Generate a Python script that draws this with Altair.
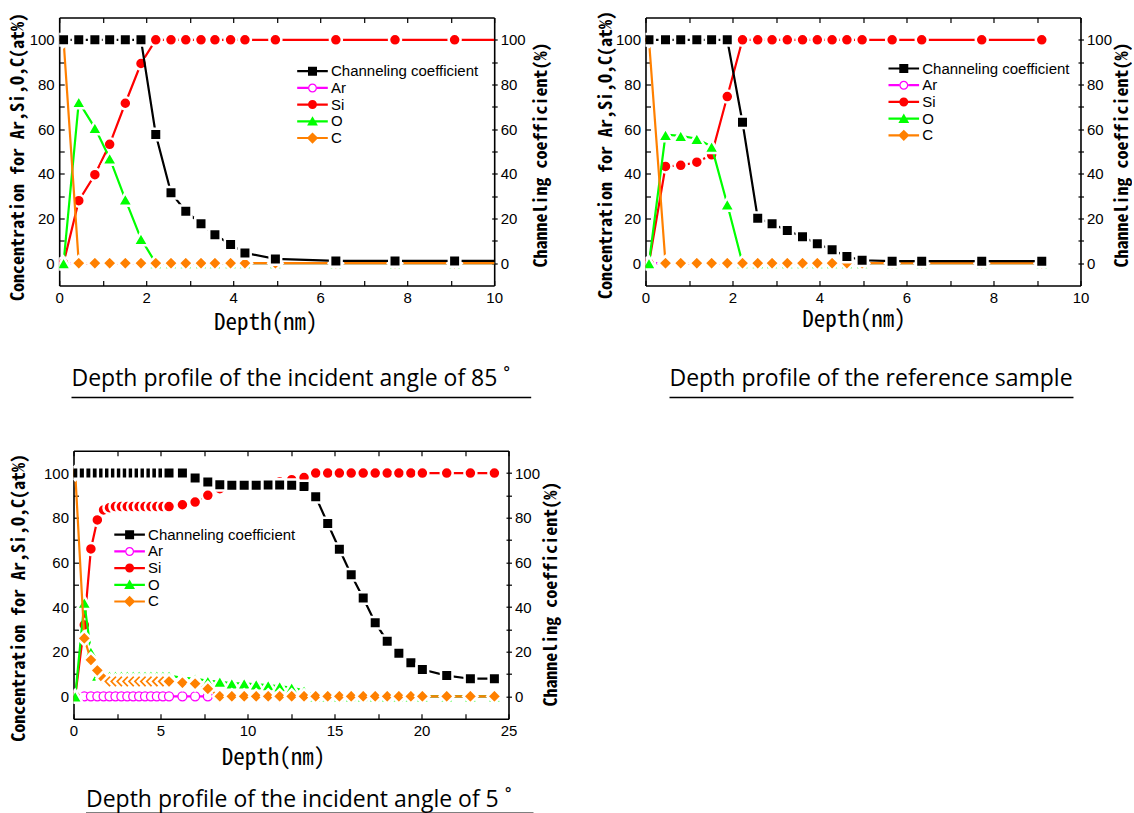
import altair as alt
import pandas as pd

SERIES = ["Channeling coefficient", "Ar", "Si", "O", "C"]
COLORS = ["#000000", "#FF00FF", "#FF0000", "#00FF00", "#FF8000"]

# ---------- Panel A : incident angle 85 deg ----------
depth_a = [0.10, 0.45, 0.82, 1.16, 1.52, 1.88, 2.22, 2.57, 2.91, 3.26, 3.58, 3.94, 4.27, 4.97, 6.36, 7.72, 9.09, 10.46]
chan_a = [100, 100, 100, 100, 100, 100, 57.6, 31.5, 23.3, 17.6, 12.7, 8.4, 4.6, 1.9, 1.0, 1.0, 1.0, 1.0]
ar_a = [0, 0, 0, 0, 0, 0, 0, 0, 0, 0, 0, 0, 0, 0, 0, 0, 0, 0]
si_a = [0, 28.0, 39.6, 53.2, 71.6, 89.4, 100, 100, 100, 100, 100, 100, 100, 100, 100, 100, 100, 100]
o_a = [0, 72.2, 60.6, 47.0, 28.6, 10.9, 0, 0, 0, 0, 0, 0, 0, 0, 0, 0, 0, 0]
c_a = [100, 0, 0, 0, 0, 0, 0, 0, 0, 0, 0, 0, 0, 0, 0, 0, 0, 0]

# ---------- Panel B : reference sample ----------
depth_b = [0.08, 0.46, 0.81, 1.18, 1.52, 1.88, 2.23, 2.58, 2.91, 3.26, 3.61, 3.95, 4.29, 4.63, 4.98, 5.67, 6.35, 7.73, 9.11]
chan_b = [100, 100, 100, 100, 100, 100, 63.1, 20.1, 17.6, 14.6, 11.8, 8.7, 6.0, 3.0, 1.3, 0.9, 0.9, 0.9, 0.9]
ar_b = [0, 0, 0, 0, 0, 0, 0, 0, 0, 0, 0, 0, 0, 0, 0, 0, 0, 0, 0]
si_b = [0, 43.3, 43.8, 45.2, 48.5, 74.6, 100, 100, 100, 100, 100, 100, 100, 100, 100, 100, 100, 100, 100]
o_b = [0, 57.5, 57.0, 55.7, 52.2, 26.4, 0, 0, 0, 0, 0, 0, 0, 0, 0, 0, 0, 0, 0]
c_b = [100, 0, 0, 0, 0, 0, 0, 0, 0, 0, 0, 0, 0, 0, 0, 0, 0, 0, 0]

# ---------- Panel C : incident angle 5 deg ----------
depth_c = [0.10, 0.62, 1.00, 1.37, 1.73, 2.07, 2.41, 2.75, 3.09, 3.43, 3.77, 4.11, 4.45, 4.79, 5.14, 5.49,
           6.26, 6.99, 7.72, 8.41, 9.10, 9.81, 10.50, 11.19, 11.85, 12.54, 13.25, 13.92, 14.61, 15.28,
           15.96, 16.65, 17.34, 18.03, 18.70, 19.39, 20.05, 21.45, 22.81, 24.19]
chan_c = [100, 100, 100, 100, 100, 100, 100, 100, 100, 100, 100, 100, 100, 100, 100, 100,
          100, 97.8, 96.0, 94.8, 94.5, 94.5, 94.5, 94.6, 94.6, 94.5, 94.0, 89.4, 77.4, 65.9,
          54.5, 44.0, 33.0, 24.7, 19.3, 15.0, 12.0, 9.3, 7.9, 7.9]
ar_c = [0, 0, 0, 0, 0, 0, 0, 0, 0, 0, 0, 0, 0, 0, 0, 0, 0, 0, 0, 0,
        0, 0, 0, 0, 0, 0, 0, 0, 0, 0, 0, 0, 0, 0, 0, 0, 0, 0, 0, 0]
si_c = [0, 32.0, 66.0, 79.0, 83.5, 84.5, 85.0, 85.0, 85.0, 85.0, 85.0, 85.0, 85.0, 85.0, 85.0, 85.0,
        85.8, 87.0, 90.0, 93.0, 94.0, 94.5, 95.0, 95.5, 96.0, 97.0, 98.0, 100, 100, 100,
        100, 100, 100, 100, 100, 100, 100, 100, 100, 100]
o_c = [0, 42.0, 20.0, 9.3, 9.3, 9.3, 9.3, 9.3, 9.3, 9.3, 9.3, 9.3, 9.3, 9.3, 9.3, 9.3,
       8.3, 8.0, 6.9, 6.6, 5.8, 5.8, 5.4, 5.0, 4.5, 3.9, 2.6, 0, 0, 0,
       0, 0, 0, 0, 0, 0, 0, 0, 0, 0]
c_c = [100, 26.0, 16.3, 11.6, 7.9, 6.7, 6.7, 6.7, 6.7, 6.7, 6.7, 6.7, 6.7, 6.7, 6.7, 6.7,
       6.1, 5.7, 3.4, 0, 0, 0, 0, 0, 0, 0, 0, 0, 0, 0,
       0, 0, 0, 0, 0, 0, 0, 0, 0, 0]

X_TICKS_A = [0, 1, 2, 3, 4, 5, 6, 7, 8, 9, 10]
X_TICKS_C = [0, 2.5, 5, 7.5, 10, 12.5, 15, 17.5, 20, 22.5, 25]
Y_TICKS = [0, 10, 20, 30, 40, 50, 60, 70, 80, 90, 100]

CAPTIONS = ["Depth profile of the incident angle of 85 \u02da",
            "Depth profile of the reference sample",
            "Depth profile of the incident angle of 5 \u02da"]

# legend symbols: line + marker (unit = sqrt(size)/2)
LINE = "M-3.4,-0.24H3.4V0.24H-3.4Z "
PATHS = [
    LINE + "M-1,-1H1V1H-1Z",
    "M-3.4,-0.24H-1V0.24H-3.4Z M1,-0.24H3.4V0.24H1Z M1,0A1,1 0 1,1 -1,0A1,1 0 1,1 1,0Z "
    "M0.72,0A0.72,0.72 0 1,0 -0.72,0A0.72,0.72 0 1,0 0.72,0Z",
    LINE + "M1,0A1,1 0 1,1 -1,0A1,1 0 1,1 1,0Z",
    LINE + "M0,-1.15L1.2,0.95H-1.2Z",
    LINE + "M0,-1.25L1.25,0L0,1.25L-1.25,0Z",
]

MARKERS = {
    "Channeling coefficient": ("square", 132),
    "Ar": ("circle", 81),
    "Si": ("circle", 144),
    "O": ("triangle-up", 220),
    "C": ("diamond", 203),
}

MONO = "'Noto Sans Mono CJK JP', 'DejaVu Sans Mono', monospace"
SANS = "Liberation Sans"
W, H = 435, 268
ONE = pd.DataFrame({"k": [0]})


def series_layers(name, depth, values, x_enc, y_enc):
    df = pd.DataFrame({"depth": depth, "value": values})
    color = COLORS[SERIES.index(name)]
    base = alt.Chart(df)
    line = base.mark_line(color=color, strokeWidth=2.2, clip=True).encode(x=x_enc, y=y_enc)
    shape, size = MARKERS[name]
    if name == "Ar":
        pts = base.mark_point(shape=shape, size=size, filled=True, fill="white", stroke=color,
                              strokeWidth=1.3, opacity=1, clip=True)
    else:
        pts = base.mark_point(shape=shape, size=size, filled=True, fill=color, stroke="white",
                              strokeWidth=2.5, opacity=1, clip=True)
    return [line, pts.encode(x=x_enc, y=y_enc)]


def panel(depth, chan, ar, si, o, c, xmax, xticks, lab_step, cfg):
    xs = alt.Scale(domain=[0, xmax], nice=False, zero=False)
    ys = alt.Scale(domain=[-10, 110], nice=False, zero=False)
    lab_expr_x = "datum.value % " + str(lab_step) + " == 0 ? datum.label : ''"
    lab_expr_y = "datum.value % 20 == 0 ? datum.label : ''"
    x_bottom = alt.X("depth:Q", scale=xs, axis=alt.Axis(
        orient="bottom", values=xticks, format="d", labelExpr=lab_expr_x, grid=True,
        gridDash=[5, 3000], gridColor="black", gridWidth=1.2, gridOpacity=1, ticks=False, tickSize=0,
        domain=True, labelPadding=5, title="Depth(nm)", titleFont=MONO, titleFontSize=23,
        titleFontWeight="normal", titleX=cfg["xt_x"], titleY=cfg["xt_y"], titleAlign="center",
        titleBaseline="middle"))
    y_left = alt.Y("value:Q", scale=ys, axis=alt.Axis(
        orient="left", values=Y_TICKS, format="d", labelExpr=lab_expr_y, grid=True,
        gridDash=[5, 3000], gridColor="black", gridWidth=1.2, gridOpacity=1, ticks=False, tickSize=0,
        domain=True, labelPadding=5, title="Concentration for Ar,Si,O,C(at%)", titleFont=MONO,
        titleFontSize=18, titleFontWeight="bold", titleAngle=270, titleX=cfg["yl_x"],
        titleY=cfg["yl_y"], titleAlign="center", titleBaseline="middle"))
    x_top = alt.X("depth:Q", scale=xs, axis=alt.Axis(
        orient="top", values=xticks, labels=False, grid=True, gridDash=[5, 3000], gridColor="black",
        gridWidth=1.2, gridOpacity=1, ticks=False, tickSize=0, domain=True, title=None))
    y_right = alt.Y("value:Q", scale=ys, axis=alt.Axis(
        orient="right", values=Y_TICKS, format="d", labelExpr=lab_expr_y, grid=True,
        gridDash=[2.5, 3000], gridColor="black", gridWidth=1.2, gridOpacity=1, ticks=True, tickSize=3,
        tickWidth=1.2, domain=True, labelPadding=3, title="Channeling coefficient(%)", titleFont=MONO,
        titleFontSize=18, titleFontWeight="bold", titleAngle=270, titleX=cfg["yr_x"],
        titleY=cfg["yr_y"], titleAlign="center", titleBaseline="middle"))

    leg = alt.Legend(title=None, orient="none", legendX=cfg["lx"], legendY=cfg["ly"], symbolSize=81,
                     symbolStrokeWidth=0, symbolOpacity=1, labelFont=SANS, labelFontSize=15,
                     labelColor="black", labelOffset=11, rowPadding=0.7, padding=0)
    legend_layer = alt.Chart(pd.DataFrame({"series": SERIES})).mark_point(filled=True, opacity=0).encode(
        shape=alt.Shape("series:N", scale=alt.Scale(domain=SERIES, range=PATHS), legend=leg),
        fill=alt.Fill("series:N", scale=alt.Scale(domain=SERIES, range=COLORS), legend=leg),
    )
    caption = alt.Chart(ONE).mark_text(text=cfg["caption"], font="Open Sans", fontSize=23, align="left",
                                       baseline="alphabetic", color="black").encode(
        x=alt.value(cfg["cx"]), y=alt.value(cfg["cy"]))
    underline = alt.Chart(ONE).mark_rule(color="black", strokeWidth=1.6).encode(
        x=alt.value(cfg["cx"]), x2=alt.value(cfg["ux1"]), y=alt.value(cfg["uy"]))

    left_layers = []
    for name, vals in (("Ar", ar), ("Si", si), ("O", o), ("C", c)):
        left_layers += series_layers(name, depth, vals, x_bottom, y_left)
    left = alt.layer(*left_layers, legend_layer, caption, underline)
    right = alt.layer(*series_layers("Channeling coefficient", depth, chan, x_top, y_right))
    return alt.layer(left, right).resolve_scale(x="independent", y="independent").properties(
        width=W, height=H)


cfg_a = dict(xt_x=206, xt_y=37, yl_x=-40.6, yl_y=139, yr_x=47, yr_y=137, lx=245.8, ly=46.2,
             caption=CAPTIONS[0], cx=12.3, cy=368.7, ux1=472, uy=380)
cfg_b = dict(xt_x=208, xt_y=34, yl_x=-39, yl_y=137, yr_x=42, yr_y=137, lx=250.8, ly=43.5,
             caption=CAPTIONS[1], cx=24, cy=368.7, ux1=428, uy=380)
cfg_c = dict(xt_x=199.5, xt_y=39, yl_x=-53.5, yl_y=146.7, yr_x=43.5, yr_y=143, lx=48.6, ly=76.5,
             caption=CAPTIONS[2], cx=12.5, cy=356.5, ux1=460, uy=362.5)

p1 = panel(depth_a, chan_a, ar_a, si_a, o_a, c_a, 10, X_TICKS_A, 2, cfg_a)
p2 = panel(depth_b, chan_b, ar_b, si_b, o_b, c_b, 10, X_TICKS_A, 2, cfg_b)
p3 = panel(depth_c, chan_c, ar_c, si_c, o_c, c_c, 25, X_TICKS_C, 5, cfg_c)

spacer = alt.Chart(ONE).mark_point(opacity=0).properties(width=1, height=H)

top = alt.hconcat(p1, p2, spacing=45.3).resolve_scale(
    shape="independent", fill="independent").resolve_legend(shape="independent", fill="independent")
bottom = alt.hconcat(spacer, p3, spacing=-53.7).resolve_scale(
    shape="independent", fill="independent").resolve_legend(shape="independent", fill="independent")
chart = alt.vconcat(top, bottom, spacing=50.2).resolve_scale(
    shape="independent", fill="independent").resolve_legend(shape="independent", fill="independent").properties(
    padding={"left": 8.2, "top": 9.5, "right": 0, "bottom": 0},
    background="white",
).configure_view(stroke="transparent").configure_axis(
    labelFont=SANS, labelFontSize=15, labelColor="black", labelOverlap=False, labelFlush=False,
    labelBound=False, domainColor="black", domainWidth=1.6, tickColor="black", titleColor="black",
)

chart.save("out.html", embed_options={"renderer": "svg", "actions": False})
